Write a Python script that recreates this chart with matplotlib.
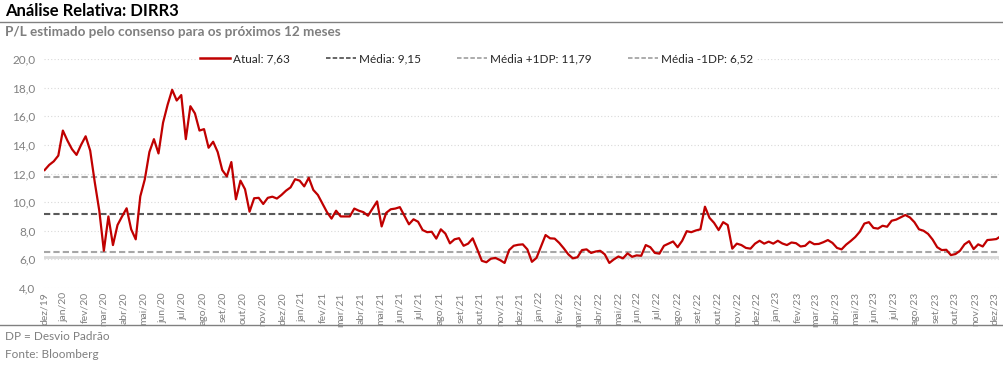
import matplotlib
matplotlib.use("Agg")
import matplotlib.pyplot as plt
import pandas as pd
from matplotlib.lines import Line2D

plt.rcParams['font.family'] = ['Lato', 'DejaVu Sans']

# ---------------- data ----------------
start_date = "2019-12-02"
pl_values = [
    12.24, 12.6, 12.85, 13.25, 15.0, 14.3, 13.7, 13.3, 14.0, 14.6,
    13.6, 11.4, 9.4, 6.6, 9.0, 7.0, 8.4, 9.0, 9.57, 8.1,
    7.4, 10.4, 11.6, 13.5, 14.4, 13.4, 15.55, 16.8, 17.85, 17.1,
    17.48, 14.4, 16.7, 16.2, 15.0, 15.1, 13.8, 14.22, 13.5, 12.24,
    11.8, 12.8, 10.2, 11.5, 10.9, 9.33, 10.27, 10.3, 9.87, 10.3,
    10.38, 10.25, 10.5, 10.8, 11.03, 11.6, 11.5, 11.1, 11.7, 10.85,
    10.5, 9.9, 9.3, 8.85, 9.4, 9.0, 9.0, 9.0, 9.55, 9.4,
    9.3, 9.05, 9.55, 10.05, 8.3, 9.25, 9.5, 9.55, 9.65, 9.05,
    8.45, 8.8, 8.63, 8.05, 7.9, 7.93, 7.45, 8.1, 7.8, 7.12,
    7.4, 7.48, 6.95, 7.1, 7.47, 6.7, 5.9, 5.8, 6.05, 6.1,
    5.95, 5.75, 6.65, 6.95, 7.02, 7.05, 6.7, 5.83, 6.1, 6.9,
    7.7, 7.47, 7.45, 7.15, 6.77, 6.35, 6.07, 6.15, 6.65, 6.7,
    6.45, 6.55, 6.6, 6.35, 5.75, 6.0, 6.2, 6.07, 6.42, 6.18,
    6.28, 6.25, 7.0, 6.85, 6.45, 6.4, 6.95, 7.1, 7.25, 6.85,
    7.3, 7.97, 7.9, 8.02, 8.1, 9.68, 8.9, 8.55, 8.05, 8.6,
    8.4, 6.75, 7.1, 7.0, 6.8, 6.75, 7.1, 7.3, 7.1, 7.24,
    7.1, 7.3, 7.11, 7.0, 7.18, 7.13, 6.9, 6.95, 7.24, 7.06,
    7.08, 7.2, 7.35, 7.15, 6.8, 6.7, 7.03, 7.28, 7.56, 7.93,
    8.5, 8.6, 8.2, 8.15, 8.35, 8.28, 8.7, 8.78, 8.94, 9.1,
    8.93, 8.6, 8.1, 8.0, 7.78, 7.38, 6.85, 6.65, 6.67, 6.3,
    6.37, 6.6, 7.05, 7.27, 6.72, 7.05, 6.9, 7.35, 7.38, 7.42,
    7.63,
]
atual = 7.63
media = 9.15
media_mais_1dp = 11.79
media_menos_1dp = 6.52
faixa_cinza = 6.2
month_abbr = ["jan", "fev", "mar", "abr", "mai", "jun",
              "jul", "ago", "set", "out", "nov", "dez"]
y_ticks = [4, 6, 8, 10, 12, 14, 16, 18, 20]

dates = pd.date_range(start_date, periods=len(pl_values), freq="7D")
series = pd.Series(pl_values, index=dates)

# ---------------- figure ----------------
W, H = 1004, 367
fig = plt.figure(figsize=(W / 100, H / 100), dpi=100)
fig.patch.set_facecolor("white")

ax = fig.add_axes([44 / W, 1 - 288 / H, 955 / W, 229 / H])

grey_txt = "#7f7f7f"
dash = (0, (3, 1.5))

def fmt(v):
    return f"{v:.2f}".replace(".", ",")

ax.axhline(faixa_cinza, color="#d9d9d9", lw=2.0, zorder=1)
ax.axhline(media, color="#595959", lw=1.5, ls=dash, zorder=2)
ax.axhline(media_mais_1dp, color="#a6a6a6", lw=1.5, ls=dash, zorder=2)
ax.axhline(media_menos_1dp, color="#a6a6a6", lw=1.5, ls=dash, zorder=2)

ax.plot(series.index, series.values, color="#c00000", lw=1.6, zorder=3)

ax.set_ylim(4, 20)
ax.set_yticks(y_ticks)
ax.set_yticklabels([f"{t:.1f}".replace(".", ",") for t in y_ticks])
ax.set_xlim(pd.Timestamp("2019-12-01"), pd.Timestamp("2023-12-08"))

month_ticks = pd.date_range("2019-12-01", "2023-12-01", freq="MS")
ax.set_xticks(month_ticks)
ax.set_xticklabels([f"{month_abbr[d.month - 1]}/{d.strftime('%y')}" for d in month_ticks],
                   rotation=90)

ax.grid(axis="y", color="#d9d9d9", lw=0.8, ls=(0, (1, 2)))
ax.grid(axis="x", visible=False)
ax.set_axisbelow(True)
for s in ax.spines.values():
    s.set_visible(False)
ax.tick_params(axis="y", length=0, labelsize=8.5, labelcolor="#808080", pad=6)
ax.tick_params(axis="x", length=0, labelsize=7.5, labelcolor="#808080", pad=3)

handles = [
    Line2D([], [], color="#c00000", lw=1.8),
    Line2D([], [], color="#595959", lw=1.3, ls=(0, (2.5, 1.2))),
    Line2D([], [], color="#a6a6a6", lw=1.3, ls=(0, (2.5, 1.2))),
    Line2D([], [], color="#a6a6a6", lw=1.3, ls=(0, (2.5, 1.2))),
]
labels = [f"Atual: {fmt(atual)}", f"Média: {fmt(media)}",
          f"Média +1DP: {fmt(media_mais_1dp)}", f"Média -1DP: {fmt(media_menos_1dp)}"]
leg = ax.legend(handles, labels, loc="center left",
                bbox_to_anchor=((198 - 44) / 955, 1.0),
                ncol=4, frameon=True, fontsize=8.5, handlelength=2.55,
                columnspacing=3.1, handletextpad=0.2, borderpad=0.2,
                borderaxespad=0.0,
                fancybox=False, edgecolor="white", facecolor="white", framealpha=1)
for t in leg.get_texts():
    t.set_color("#262626")

# Title area
fig.text(5 / W, 1 - 11 / H, "Análise Relativa: DIRR3", fontsize=12, fontweight="bold",
         color="black", va="center", ha="left")
fig.add_artist(Line2D([0, 1], [1 - 22 / H, 1 - 22 / H], color="#808080", lw=1.0))
fig.text(5 / W, 1 - 32 / H, "P/L estimado pelo consenso para os próximos 12 meses",
         fontsize=9.7, fontweight="bold", color=grey_txt, va="center", ha="left")

# Footer
fig.add_artist(Line2D([0, 1], [1 - 325 / H, 1 - 325 / H], color="#808080", lw=1.0))
fig.text(5 / W, 1 - 337 / H, "DP = Desvio Padrão", fontsize=8.5, color=grey_txt,
         va="center", ha="left")
fig.text(5 / W, 1 - 354 / H, "Fonte: Bloomberg", fontsize=8.5, color=grey_txt,
         va="center", ha="left")

fig.savefig("out.png", dpi=100, facecolor="white")
